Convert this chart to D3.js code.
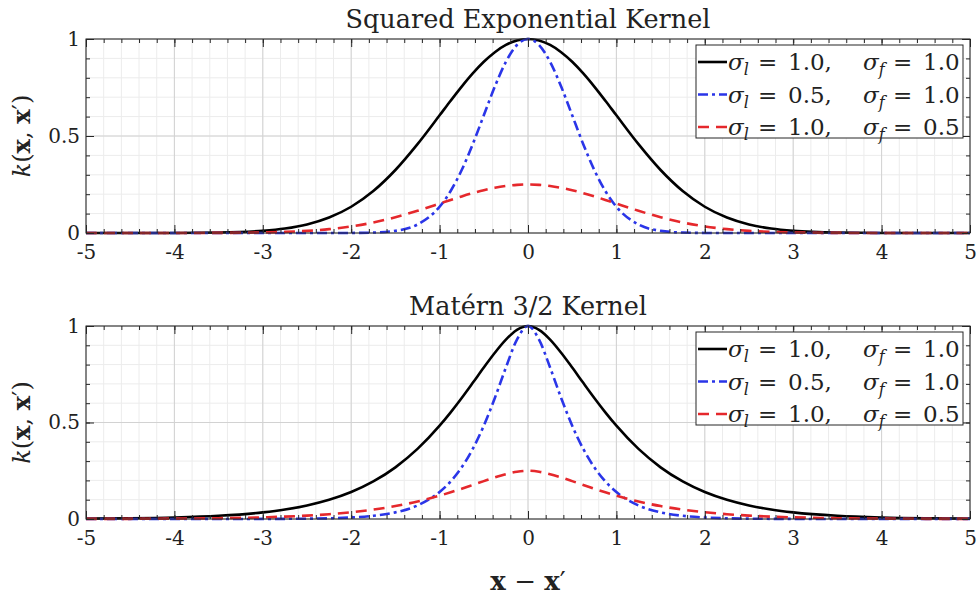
<!DOCTYPE html>
<html>
<head>
<meta charset="utf-8">
<script src="https://cdn.jsdelivr.net/npm/d3@7"></script>
<style>
  body { margin: 0; background: #fff; }
  text { font-family: 'DejaVu Serif', serif; fill: #222; }
</style>
</head>
<body>
<svg id="chart" width="979" height="595"></svg>
<script>
// sample positions along x - x'
const xs = [-5, -4.5, -4, -3.5, -3, -2.75, -2.5, -2.25, -2, -1.75, -1.5, -1.25, -1, -0.875, -0.75, -0.625, -0.5, -0.375, -0.25, -0.125,
  0, 0.125, 0.25, 0.375, 0.5, 0.625, 0.75, 0.875, 1, 1.25, 1.5, 1.75, 2, 2.25, 2.5, 2.75, 3, 3.5, 4, 4.5, 5]

// squared exponential kernel
const seBlack = [0, 0, 0.0003, 0.0022, 0.0111, 0.0228, 0.0439, 0.0796, 0.1353, 0.2163, 0.3247, 0.4578, 0.6065, 0.6819, 0.7548, 0.8226, 0.8825, 0.9321, 0.9692, 0.9922,
  1, 0.9922, 0.9692, 0.9321, 0.8825, 0.8226, 0.7548, 0.6819, 0.6065, 0.4578, 0.3247, 0.2163, 0.1353, 0.0796, 0.0439, 0.0228, 0.0111, 0.0022, 0.0003, 0, 0]
const seBlue = [0, 0, 0, 0, 0, 0, 0, 0, 0.0003, 0.0022, 0.0111, 0.0439, 0.1353, 0.2163, 0.3247, 0.4578, 0.6065, 0.7548, 0.8825, 0.9692,
  1, 0.9692, 0.8825, 0.7548, 0.6065, 0.4578, 0.3247, 0.2163, 0.1353, 0.0439, 0.0111, 0.0022, 0.0003, 0, 0, 0, 0, 0, 0, 0, 0]
const seRed = [0, 0, 0.0001, 0.0005, 0.0028, 0.0057, 0.0110, 0.0199, 0.0338, 0.0541, 0.0812, 0.1145, 0.1516, 0.1705, 0.1887, 0.2057, 0.2206, 0.2330, 0.2423, 0.2481,
  0.25, 0.2481, 0.2423, 0.2330, 0.2206, 0.2057, 0.1887, 0.1705, 0.1516, 0.1145, 0.0812, 0.0541, 0.0338, 0.0199, 0.0110, 0.0057, 0.0028, 0.0005, 0.0001, 0, 0]

// matern 3/2 kernel
const maBlack = [0.0017, 0.0036, 0.0078, 0.0165, 0.0343, 0.0492, 0.0702, 0.0995, 0.1398, 0.1946, 0.2677, 0.3631, 0.4834, 0.5527, 0.6272, 0.7054, 0.7849, 0.8615, 0.9295, 0.9797,
  1, 0.9797, 0.9295, 0.8615, 0.7849, 0.7054, 0.6272, 0.5527, 0.4834, 0.3631, 0.2677, 0.1946, 0.1398, 0.0995, 0.0702, 0.0492, 0.0343, 0.0165, 0.0078, 0.0036, 0.0017]
const maBlue = [0, 0, 0, 0.0001, 0.0004, 0.0008, 0.0017, 0.0036, 0.0078, 0.0165, 0.0343, 0.0702, 0.1398, 0.1946, 0.2677, 0.3631, 0.4834, 0.6272, 0.7849, 0.9295,
  1, 0.9295, 0.7849, 0.6272, 0.4834, 0.3631, 0.2677, 0.1946, 0.1398, 0.0702, 0.0343, 0.0165, 0.0078, 0.0036, 0.0017, 0.0008, 0.0004, 0.0001, 0, 0, 0]
const maRed = [0.0004, 0.0009, 0.0020, 0.0041, 0.0086, 0.0123, 0.0176, 0.0249, 0.0350, 0.0487, 0.0669, 0.0908, 0.1209, 0.1382, 0.1568, 0.1764, 0.1962, 0.2154, 0.2324, 0.2449,
  0.25, 0.2449, 0.2324, 0.2154, 0.1962, 0.1764, 0.1568, 0.1382, 0.1209, 0.0908, 0.0669, 0.0487, 0.0350, 0.0249, 0.0176, 0.0123, 0.0086, 0.0041, 0.0020, 0.0009, 0.0004]

const xTicks = [-5, -4, -3, -2, -1, 0, 1, 2, 3, 4, 5]
const yTicks = [0, 0.5, 1]
const titles = ['Squared Exponential Kernel', 'Matérn 3/2 Kernel']
const sigmaL = ['1.0', '0.5', '1.0']
const sigmaF = ['1.0', '1.0', '0.5']

const styles = [
  { color: '#000000', dash: null },
  { color: '#2a35e8', dash: '10,4,3,4' },
  { color: '#e5282c', dash: '11,7' }
]

const panels = [
  { title: titles[0], top: 39, bottom: 233, series: [seBlack, seBlue, seRed] },
  { title: titles[1], top: 326, bottom: 519, series: [maBlack, maBlue, maRed] }
]

const left = 86
const right = 970
const svg = d3.select('#chart')

const x = d3.scaleLinear().domain([-5, 5]).range([left, right])
const xMinor = d3.ticks(-5, 5, 50)
const yMinor = d3.ticks(0, 1, 10)

// sigma_sub = value, placed like the latex legend
const sigmaText = (row, x0, sub, value) => {
  row.append('text').attr('x', x0).attr('y', 8).attr('font-size', 23)
    .call(t => {
      t.append('tspan').attr('font-style', 'italic').text('σ')
      t.append('tspan').attr('font-style', 'italic').attr('font-size', 16).attr('dy', 5).text(sub)
    })
  row.append('text').attr('x', x0 + 30).attr('y', 8).attr('font-size', 23).text('=')
  row.append('text').attr('x', x0 + 60).attr('y', 8).attr('font-size', 23).text(value)
}

panels.forEach(p => {
  const y = d3.scaleLinear().domain([0, 1]).range([p.bottom, p.top])
  const g = svg.append('g')

  // grid, minor first
  g.append('g').selectAll('line').data(xMinor).join('line')
    .attr('x1', d => x(d)).attr('x2', d => x(d))
    .attr('y1', p.top).attr('y2', p.bottom)
    .attr('stroke', '#ececec')
  g.append('g').selectAll('line').data(yMinor).join('line')
    .attr('y1', d => y(d)).attr('y2', d => y(d))
    .attr('x1', left).attr('x2', right)
    .attr('stroke', '#ececec')
  g.append('g').selectAll('line').data(xTicks).join('line')
    .attr('x1', d => x(d)).attr('x2', d => x(d))
    .attr('y1', p.top).attr('y2', p.bottom)
    .attr('stroke', '#d2d2d2')
  g.append('g').selectAll('line').data(yTicks).join('line')
    .attr('y1', d => y(d)).attr('y2', d => y(d))
    .attr('x1', left).attr('x2', right)
    .attr('stroke', '#d2d2d2')

  // curves
  const line = d3.line()
    .x((d, i) => x(xs[i]))
    .y(d => y(d))
    .curve(d3.curveMonotoneX)

  p.series.forEach((s, i) => {
    g.append('path')
      .datum(s)
      .attr('d', line)
      .attr('fill', 'none')
      .attr('stroke', styles[i].color)
      .attr('stroke-width', 2.6)
      .attr('stroke-dasharray', styles[i].dash)
  })

  // axes with inward ticks on all four sides
  const fmt = d3.format('')
  const addAxis = (axis, tx, ty) => {
    const a = g.append('g').attr('transform', `translate(${tx},${ty})`).call(axis)
    a.select('.domain').remove()
    a.selectAll('line').attr('stroke', '#262626')
    return a
  }
  addAxis(d3.axisBottom(x).tickValues(xMinor).tickSize(-4).tickFormat(''), 0, p.bottom)
  addAxis(d3.axisTop(x).tickValues(xMinor).tickSize(-4).tickFormat(''), 0, p.top)
  addAxis(d3.axisLeft(y).tickValues(yMinor).tickSize(-4).tickFormat(''), left, 0)
  addAxis(d3.axisRight(y).tickValues(yMinor).tickSize(-4).tickFormat(''), right, 0)
  const xb = addAxis(d3.axisBottom(x).tickValues(xTicks).tickSize(-8).tickPadding(12).tickFormat(fmt), 0, p.bottom)
  addAxis(d3.axisTop(x).tickValues(xTicks).tickSize(-8).tickFormat(''), 0, p.top)
  const yl = addAxis(d3.axisLeft(y).tickValues(yTicks).tickSize(-8).tickPadding(6).tickFormat(fmt), left, 0)
  addAxis(d3.axisRight(y).tickValues(yTicks).tickSize(-8).tickFormat(''), right, 0)
  xb.selectAll('text').attr('font-size', 20).attr('font-family', 'DejaVu Serif').attr('fill', '#222').text(d => fmt(d).replace('−', '-'))
  yl.selectAll('text').attr('font-size', 20).attr('font-family', 'DejaVu Serif').attr('fill', '#222')

  g.append('rect')
    .attr('x', left).attr('y', p.top)
    .attr('width', right - left).attr('height', p.bottom - p.top)
    .attr('fill', 'none').attr('stroke', '#262626').attr('stroke-width', 1)

  // title
  g.append('text')
    .attr('x', (left + right) / 2).attr('y', p.top - 11)
    .attr('text-anchor', 'middle')
    .attr('font-size', 25.5)
    .text(p.title)

  // y label k(x, x')
  const yt = g.append('text')
    .attr('transform', `translate(30,${(p.top + p.bottom) / 2}) rotate(-90)`)
    .attr('text-anchor', 'middle')
    .attr('font-size', 24)
  yt.append('tspan').attr('font-style', 'italic').text('k')
  yt.append('tspan').text('(')
  yt.append('tspan').attr('font-weight', 'bold').text('x')
  yt.append('tspan').text(', ')
  yt.append('tspan').attr('font-weight', 'bold').text('x')
  yt.append('tspan').text('′)')

  // legend
  const lg = g.append('g').attr('transform', `translate(696,${p.top + 6})`)
  lg.append('rect')
    .attr('width', 267).attr('height', 93)
    .attr('fill', '#fff').attr('stroke', '#262626').attr('stroke-width', 1)
  styles.forEach((st, i) => {
    const row = lg.append('g').attr('transform', `translate(0,${17 + i * 32.5})`)
    row.append('line')
      .attr('x1', 2).attr('x2', 31)
      .attr('stroke', st.color).attr('stroke-width', 2.6)
      .attr('stroke-dasharray', st.dash)
    sigmaText(row, 32, 'l', sigmaL[i] + ',')
    sigmaText(row, 167, 'f', sigmaF[i])
  })
})

// shared x label
const xl = svg.append('text')
  .attr('x', (left + right) / 2).attr('y', 590)
  .attr('text-anchor', 'middle')
  .attr('font-size', 26)
xl.append('tspan').attr('font-weight', 'bold').text('x')
xl.append('tspan').text(' − ')
xl.append('tspan').attr('font-weight', 'bold').text('x')
xl.append('tspan').text('′')
</script>
</body>
</html>
